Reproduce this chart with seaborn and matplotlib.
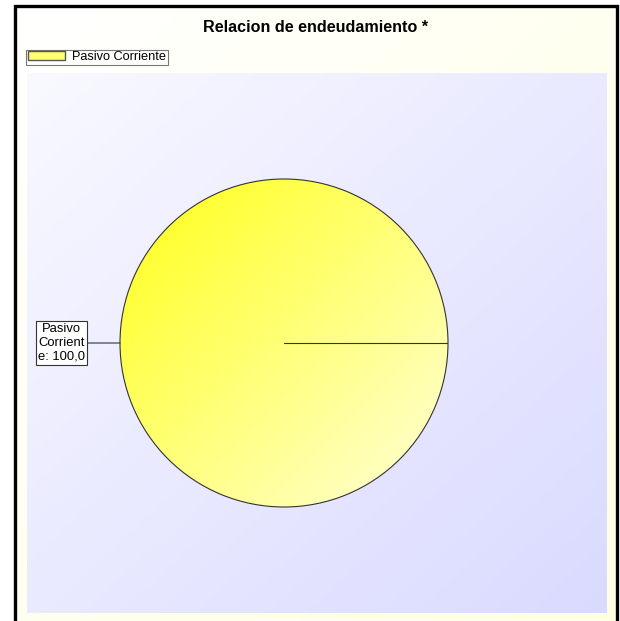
import numpy as np
import matplotlib
matplotlib.use("Agg")
import matplotlib.pyplot as plt
import seaborn as sns
from matplotlib.colors import LinearSegmentedColormap
from matplotlib.patches import Rectangle, Patch

sns.set_style("white")
plt.rcParams['font.family'] = ['Liberation Sans', 'DejaVu Sans']
plt.rcParams['text.color'] = 'black'

# datos
categorias = ["Pasivo Corriente"]
valores = [100.0]
titulo = "Relacion de endeudamiento *"

W, H = 620, 621
fig = plt.figure(figsize=(W / 100, H / 100), dpi=100)
fig.patch.set_facecolor("white")

def px(x0, y0, x1, y1):
    # caja en pixeles (origen arriba-izquierda) -> fraccion de figura
    return [x0 / W, 1 - y1 / H, (x1 - x0) / W, (y1 - y0) / H]

def degradado(c0, c1, n=256):
    xx, yy = np.meshgrid(np.linspace(0, 1, n), np.linspace(0, 1, n))
    return (xx + yy) / 2, LinearSegmentedColormap.from_list("g", [c0, c1])

# fondo del grafico (marfil) con marco negro
ax_bg = fig.add_axes(px(15, 6, 617, 640))
g, cm = degradado("#FFFFFF", "#FFFFE2")
ax_bg.imshow(g, cmap=cm, extent=[0, 1, 0, 1], aspect="auto", origin="upper")
ax_bg.set_axis_off()
fig.add_artist(Rectangle((14.5 / W, -0.05), (602.5) / W, 1.05 - 6 / H,
                         transform=fig.transFigure, fill=False,
                         edgecolor="black", linewidth=2.4))

# area de trazado (lavanda)
ax_area = fig.add_axes(px(27, 73, 607, 613))
g, cm = degradado("#F9F9FF", "#DADAFF")
ax_area.imshow(g, cmap=cm, extent=[0, 1, 0, 1], aspect="auto", origin="upper")
ax_area.set_axis_off()

# titulo
fig.text(316 / W, 1 - 28 / H, titulo, ha="center", va="center",
         fontsize=11.6, fontweight="bold", color="black")

# torta
ax = fig.add_axes(px(120, 179, 448, 507))
wedges, _ = ax.pie(valores, labels=None, startangle=0, radius=1,
                   wedgeprops=dict(facecolor="none", edgecolor="#333333",
                                   linewidth=0.8))
g, cm = degradado("#FFFF18", "#FFFFDA")
for w in wedges:
    im = ax.imshow(g, cmap=cm, extent=[-1, 1, -1, 1], origin="upper", zorder=0)
    im.set_clip_path(w)
ax.set_xlim(-1, 1)
ax.set_ylim(-1, 1)
ax.set_aspect("equal")
ax.set_axis_off()

# linea de borde del sector
total = sum(valores)
acum = 0
for v in valores:
    acum += v
    ang = np.deg2rad(360 * acum / total)
    ax.plot([0, np.cos(ang)], [0, np.sin(ang)], color="#333333", lw=0.8)

# etiqueta
for w, cat, v in zip(wedges, categorias, valores):
    etiqueta = "Pasivo\nCorrient\ne: " + f"{v:.1f}".replace(".", ",")
    ax.annotate(etiqueta, xy=(-1, 0), xytext=(-1.355, 0),
                ha="center", va="center", fontsize=9.4, linespacing=1.2,
                color="black",
                bbox=dict(boxstyle="square,pad=0.15", fc="white", ec="#333333", lw=0.8),
                arrowprops=dict(arrowstyle="-", color="#333333", lw=0.8,
                                shrinkA=0, shrinkB=0),
                annotation_clip=False)

# leyenda
handles = [Patch(facecolor="#FFFF70", edgecolor="#555555", label=c) for c in categorias]
leg = fig.legend(handles=handles, loc="upper left",
                 bbox_to_anchor=(26 / W, 1 - 49.5 / H), fontsize=9.2,
                 frameon=True, fancybox=False, borderpad=0.12,
                 handlelength=2.9, handleheight=0.75, handletextpad=0.6,
                 borderaxespad=0, labelcolor="black")
leg.get_frame().set_edgecolor("#555555")
leg.get_frame().set_linewidth(0.8)

fig.savefig("out.png", dpi=100)
